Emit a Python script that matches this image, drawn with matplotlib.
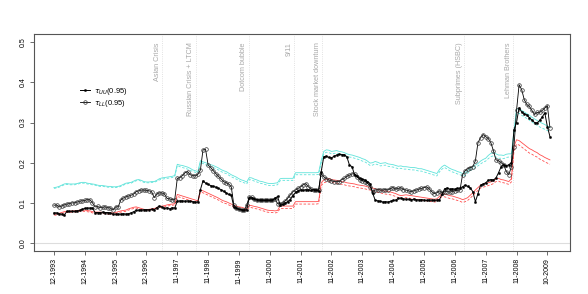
import matplotlib
matplotlib.use("Agg")
import matplotlib.pyplot as plt

plt.rcParams["font.family"] = ["Liberation Sans", "DejaVu Sans"]

# tick labels, one every 12 observations
tick_labels = ["12-1993", "12-1994", "12-1995", "12-1996", "11-1997", "11-1998",
               "11-1999", "11-2000", "11-2001", "11-2002", "11-2003", "11-2004",
               "11-2005", "11-2006", "11-2007", "11-2008", "10-2009"]

# crisis events (position in observation index)
event_names = ["Asian Crisis", "Russian Crisis + LTCM", "Dotcom bubble", "9/11",
               "Stock market downturn", "Subprimes (HSBC)", "Lehman Brothers"]
event_pos = [42.2, 55.2, 75.9, 93.6, 104.5, 159.7, 178.7]

tau_uu = [
    0.075, 0.075, 0.073, 0.072, 0.069, 0.079, 0.079, 0.079, 0.079, 0.080, 0.081, 0.084,
    0.086, 0.087, 0.087, 0.087, 0.076, 0.076, 0.076, 0.077, 0.076, 0.076, 0.075, 0.072,
    0.072, 0.072, 0.072, 0.073, 0.072, 0.073, 0.075, 0.078, 0.081, 0.082, 0.082, 0.083,
    0.083, 0.083, 0.084, 0.083, 0.088, 0.092, 0.090, 0.086, 0.088, 0.085, 0.088, 0.087,
    0.104, 0.105, 0.105, 0.104, 0.105, 0.104, 0.103, 0.102, 0.102, 0.133, 0.155, 0.149,
    0.146, 0.143, 0.141, 0.139, 0.136, 0.133, 0.129, 0.125, 0.121, 0.119, 0.090, 0.086,
    0.084, 0.083, 0.082, 0.083, 0.113, 0.112, 0.110, 0.108, 0.107, 0.107, 0.106, 0.107,
    0.106, 0.107, 0.111, 0.116, 0.095, 0.096, 0.100, 0.103, 0.108, 0.118, 0.126, 0.130,
    0.132, 0.131, 0.133, 0.132, 0.131, 0.133, 0.132, 0.129, 0.178, 0.215, 0.216, 0.213,
    0.212, 0.216, 0.219, 0.221, 0.220, 0.220, 0.214, 0.194, 0.190, 0.169, 0.166, 0.161,
    0.159, 0.157, 0.153, 0.148, 0.124, 0.107, 0.105, 0.104, 0.102, 0.103, 0.102, 0.104,
    0.106, 0.107, 0.111, 0.112, 0.110, 0.109, 0.109, 0.108, 0.109, 0.108, 0.107, 0.108,
    0.107, 0.106, 0.107, 0.107, 0.106, 0.107, 0.108, 0.121, 0.135, 0.137, 0.134, 0.135,
    0.134, 0.136, 0.137, 0.140, 0.144, 0.141, 0.137, 0.128, 0.103, 0.123, 0.144, 0.147,
    0.150, 0.156, 0.158, 0.157, 0.162, 0.175, 0.190, 0.195, 0.192, 0.195, 0.200, 0.282,
    0.300, 0.337, 0.326, 0.322, 0.319, 0.312, 0.306, 0.300, 0.299, 0.305, 0.314, 0.324,
    0.290, 0.265,
]

tau_ll = [
    0.094, 0.095, 0.090, 0.092, 0.095, 0.097, 0.098, 0.100, 0.100, 0.102, 0.104, 0.105,
    0.106, 0.108, 0.108, 0.100, 0.090, 0.091, 0.088, 0.089, 0.090, 0.088, 0.087, 0.082,
    0.090, 0.090, 0.107, 0.112, 0.115, 0.117, 0.119, 0.122, 0.128, 0.130, 0.132, 0.132,
    0.131, 0.130, 0.128, 0.113, 0.122, 0.125, 0.125, 0.122, 0.111, 0.110, 0.108, 0.108,
    0.161, 0.163, 0.168, 0.175, 0.178, 0.170, 0.168, 0.167, 0.171, 0.182, 0.232, 0.233,
    0.194, 0.188, 0.180, 0.173, 0.166, 0.160, 0.153, 0.150, 0.147, 0.140, 0.095, 0.088,
    0.084, 0.082, 0.081, 0.094, 0.115, 0.114, 0.110, 0.108, 0.107, 0.107, 0.107, 0.107,
    0.107, 0.108, 0.110, 0.098, 0.098, 0.100, 0.105, 0.112, 0.120, 0.128, 0.132, 0.136,
    0.140, 0.145, 0.148, 0.140, 0.135, 0.133, 0.132, 0.133, 0.173, 0.165, 0.160, 0.157,
    0.155, 0.153, 0.153, 0.153, 0.158, 0.161, 0.166, 0.169, 0.172, 0.173, 0.165, 0.157,
    0.155, 0.153, 0.150, 0.140, 0.128, 0.132, 0.133, 0.132, 0.132, 0.133, 0.132, 0.136,
    0.138, 0.134, 0.136, 0.138, 0.133, 0.132, 0.130, 0.128, 0.130, 0.132, 0.134, 0.136,
    0.138, 0.140, 0.135, 0.128, 0.123, 0.125, 0.130, 0.125, 0.128, 0.128, 0.127, 0.128,
    0.130, 0.131, 0.132, 0.170, 0.180, 0.185, 0.188, 0.190, 0.205, 0.250, 0.262, 0.270,
    0.265, 0.260, 0.250, 0.230, 0.207, 0.205, 0.200, 0.195, 0.178, 0.170, 0.190, 0.240,
    0.330, 0.394, 0.382, 0.357, 0.345, 0.340, 0.330, 0.320, 0.325, 0.325, 0.330, 0.336,
    0.342, 0.287,
]

upper_band = [
    0.138, 0.139, 0.141, 0.144, 0.147, 0.148, 0.147, 0.147, 0.147, 0.148, 0.150, 0.151,
    0.151, 0.149, 0.148, 0.147, 0.146, 0.144, 0.143, 0.143, 0.142, 0.141, 0.141, 0.140,
    0.140, 0.141, 0.143, 0.146, 0.149, 0.150, 0.151, 0.154, 0.157, 0.158, 0.156, 0.153,
    0.152, 0.152, 0.153, 0.153, 0.156, 0.160, 0.162, 0.163, 0.164, 0.165, 0.166, 0.168,
    0.196, 0.194, 0.193, 0.191, 0.189, 0.186, 0.182, 0.180, 0.178, 0.205, 0.202, 0.200,
    0.197, 0.195, 0.193, 0.190, 0.187, 0.183, 0.180, 0.178, 0.174, 0.170, 0.167, 0.164,
    0.160, 0.157, 0.155, 0.152, 0.163, 0.162, 0.159, 0.157, 0.154, 0.153, 0.151, 0.149,
    0.148, 0.148, 0.149, 0.150, 0.160, 0.161, 0.161, 0.161, 0.161, 0.161, 0.175, 0.175,
    0.175, 0.175, 0.175, 0.175, 0.175, 0.175, 0.175, 0.176, 0.205, 0.228, 0.232, 0.231,
    0.228, 0.229, 0.230, 0.228, 0.227, 0.225, 0.222, 0.220, 0.219, 0.217, 0.215, 0.213,
    0.210, 0.208, 0.204, 0.199, 0.200, 0.203, 0.201, 0.198, 0.199, 0.200, 0.197, 0.196,
    0.195, 0.193, 0.191, 0.192, 0.190, 0.190, 0.189, 0.188, 0.188, 0.187, 0.185, 0.185,
    0.183, 0.181, 0.179, 0.177, 0.175, 0.173, 0.183, 0.190, 0.194, 0.190, 0.186, 0.183,
    0.181, 0.178, 0.176, 0.173, 0.175, 0.180, 0.186, 0.190, 0.194, 0.198, 0.204, 0.208,
    0.211, 0.218, 0.223, 0.225, 0.222, 0.219, 0.219, 0.218, 0.221, 0.222, 0.222, 0.280,
    0.333, 0.335, 0.330, 0.326, 0.322, 0.318, 0.313, 0.309, 0.305, 0.301, 0.298, 0.295,
    0.291, 0.288,
]

upper_band_2 = [
    0.136, 0.137, 0.139, 0.142, 0.145, 0.146, 0.145, 0.145, 0.145, 0.146, 0.148, 0.149,
    0.149, 0.147, 0.146, 0.145, 0.144, 0.142, 0.141, 0.141, 0.140, 0.139, 0.139, 0.138,
    0.138, 0.139, 0.141, 0.144, 0.147, 0.148, 0.149, 0.152, 0.155, 0.156, 0.154, 0.151,
    0.150, 0.150, 0.151, 0.151, 0.154, 0.157, 0.159, 0.160, 0.161, 0.162, 0.163, 0.165,
    0.193, 0.190, 0.188, 0.186, 0.184, 0.181, 0.178, 0.176, 0.174, 0.201, 0.198, 0.195,
    0.192, 0.190, 0.188, 0.185, 0.182, 0.178, 0.175, 0.173, 0.169, 0.165, 0.162, 0.159,
    0.155, 0.152, 0.150, 0.147, 0.158, 0.157, 0.154, 0.152, 0.149, 0.148, 0.146, 0.144,
    0.143, 0.143, 0.144, 0.145, 0.155, 0.156, 0.156, 0.156, 0.156, 0.156, 0.170, 0.170,
    0.170, 0.170, 0.170, 0.170, 0.170, 0.170, 0.170, 0.171, 0.200, 0.222, 0.226, 0.225,
    0.222, 0.223, 0.224, 0.222, 0.221, 0.219, 0.216, 0.214, 0.213, 0.211, 0.209, 0.207,
    0.204, 0.202, 0.198, 0.193, 0.194, 0.197, 0.195, 0.192, 0.193, 0.194, 0.191, 0.190,
    0.189, 0.187, 0.185, 0.186, 0.184, 0.184, 0.183, 0.182, 0.182, 0.181, 0.179, 0.179,
    0.177, 0.175, 0.173, 0.171, 0.169, 0.167, 0.177, 0.184, 0.188, 0.184, 0.180, 0.177,
    0.175, 0.172, 0.170, 0.167, 0.169, 0.174, 0.180, 0.184, 0.188, 0.192, 0.197, 0.201,
    0.204, 0.210, 0.215, 0.217, 0.214, 0.211, 0.211, 0.210, 0.213, 0.214, 0.214, 0.270,
    0.322, 0.323, 0.318, 0.314, 0.310, 0.306, 0.301, 0.297, 0.293, 0.289, 0.286, 0.283,
    0.280, 0.277,
]

lower_band = [
    0.073, 0.072, 0.074, 0.076, 0.078, 0.079, 0.079, 0.080, 0.080, 0.081, 0.082, 0.082,
    0.082, 0.081, 0.080, 0.078, 0.077, 0.077, 0.077, 0.076, 0.076, 0.075, 0.075, 0.075,
    0.076, 0.078, 0.080, 0.081, 0.082, 0.085, 0.087, 0.089, 0.090, 0.088, 0.086, 0.084,
    0.083, 0.084, 0.085, 0.086, 0.088, 0.091, 0.092, 0.093, 0.095, 0.096, 0.097, 0.098,
    0.121, 0.119, 0.117, 0.115, 0.113, 0.111, 0.109, 0.107, 0.105, 0.132, 0.130, 0.127,
    0.124, 0.121, 0.118, 0.115, 0.112, 0.108, 0.105, 0.103, 0.100, 0.097, 0.094, 0.092,
    0.090, 0.089, 0.087, 0.086, 0.094, 0.093, 0.091, 0.090, 0.088, 0.086, 0.084, 0.082,
    0.081, 0.081, 0.080, 0.081, 0.092, 0.092, 0.092, 0.092, 0.092, 0.092, 0.103, 0.103,
    0.103, 0.103, 0.103, 0.103, 0.103, 0.103, 0.103, 0.104, 0.150, 0.157, 0.159, 0.161,
    0.158, 0.157, 0.156, 0.155, 0.153, 0.152, 0.150, 0.149, 0.148, 0.147, 0.145, 0.144,
    0.143, 0.142, 0.140, 0.139, 0.137, 0.135, 0.133, 0.132, 0.130, 0.129, 0.128, 0.127,
    0.125, 0.123, 0.120, 0.118, 0.119, 0.120, 0.119, 0.118, 0.117, 0.116, 0.115, 0.114,
    0.113, 0.112, 0.111, 0.110, 0.109, 0.110, 0.116, 0.123, 0.122, 0.120, 0.118, 0.117,
    0.115, 0.113, 0.111, 0.108, 0.110, 0.113, 0.119, 0.125, 0.132, 0.138, 0.144, 0.146,
    0.148, 0.150, 0.152, 0.155, 0.160, 0.161, 0.158, 0.157, 0.155, 0.153, 0.160, 0.240,
    0.257, 0.255, 0.250, 0.245, 0.240, 0.235, 0.232, 0.228, 0.225, 0.220, 0.217, 0.213,
    0.210, 0.207,
]

lower_band_2 = [
    0.070, 0.069, 0.071, 0.073, 0.075, 0.076, 0.076, 0.077, 0.077, 0.078, 0.079, 0.079,
    0.079, 0.078, 0.077, 0.075, 0.074, 0.074, 0.074, 0.073, 0.073, 0.072, 0.072, 0.072,
    0.073, 0.075, 0.077, 0.078, 0.079, 0.082, 0.084, 0.086, 0.087, 0.085, 0.083, 0.081,
    0.080, 0.081, 0.082, 0.083, 0.085, 0.088, 0.089, 0.090, 0.092, 0.093, 0.094, 0.095,
    0.116, 0.114, 0.112, 0.110, 0.108, 0.106, 0.104, 0.102, 0.100, 0.127, 0.125, 0.122,
    0.119, 0.116, 0.113, 0.110, 0.107, 0.103, 0.100, 0.098, 0.095, 0.092, 0.089, 0.087,
    0.085, 0.084, 0.082, 0.081, 0.089, 0.088, 0.086, 0.085, 0.083, 0.081, 0.079, 0.077,
    0.076, 0.076, 0.075, 0.076, 0.086, 0.086, 0.086, 0.086, 0.086, 0.086, 0.097, 0.097,
    0.097, 0.097, 0.097, 0.097, 0.097, 0.097, 0.097, 0.098, 0.143, 0.150, 0.152, 0.154,
    0.151, 0.150, 0.149, 0.148, 0.146, 0.145, 0.143, 0.142, 0.141, 0.140, 0.138, 0.137,
    0.136, 0.135, 0.133, 0.132, 0.130, 0.128, 0.126, 0.125, 0.123, 0.122, 0.121, 0.120,
    0.118, 0.116, 0.113, 0.111, 0.112, 0.113, 0.112, 0.111, 0.110, 0.109, 0.108, 0.107,
    0.106, 0.105, 0.104, 0.103, 0.102, 0.103, 0.109, 0.116, 0.115, 0.113, 0.111, 0.110,
    0.108, 0.106, 0.104, 0.101, 0.103, 0.106, 0.112, 0.118, 0.125, 0.131, 0.137, 0.139,
    0.141, 0.143, 0.145, 0.148, 0.153, 0.154, 0.151, 0.150, 0.148, 0.146, 0.152, 0.228,
    0.246, 0.244, 0.239, 0.234, 0.229, 0.224, 0.221, 0.217, 0.214, 0.209, 0.206, 0.202,
    0.199, 0.196,
]

n = len(tau_uu)
idx = list(range(n))

fig = plt.figure(figsize=(5.88, 2.94), dpi=100)
ax = fig.add_axes([0.058, 0.146, 0.911, 0.738])

cyan = "#5ee3da"
red = "#ff4d4d"

ax.axhline(0, color="#dddddd", lw=0.8, zorder=0)
for pos in event_pos:
    ax.axvline(pos, color="#d8d8d8", lw=0.6, ls=":", zorder=0)
for name, pos in zip(event_names, event_pos):
    ax.text(pos - 0.6, 0.5, name, rotation=90, ha="right", va="top",
            fontsize=5.2, color="#a8a8a8")

ax.plot(idx, lower_band, color=red, lw=0.6)
ax.plot(idx, lower_band_2, color=red, lw=0.6, ls=(0, (3, 2)))
ax.plot(idx, upper_band, color=cyan, lw=0.6)
ax.plot(idx, upper_band_2, color=cyan, lw=0.6, ls=(0, (3, 2)))

ax.plot(idx, tau_ll, color="black", lw=0.6, marker="o", markersize=2.6,
        markerfacecolor="none", markeredgecolor="#333333", markeredgewidth=0.5,
        label=r"$\tau_{LL}$(0.95)")
ax.plot(idx, tau_uu, color="black", lw=0.7, marker="o", markersize=1.6,
        markerfacecolor="black", markeredgecolor="black", markeredgewidth=0.3,
        label=r"$\tau_{UU}$(0.95)")

handles, labels = ax.get_legend_handles_labels()
ax.legend(handles[::-1], labels[::-1], loc="upper left", bbox_to_anchor=(0.075, 0.785),
          frameon=False, fontsize=5.4, handlelength=1.4, handletextpad=0.5,
          labelspacing=0.1, borderpad=0.2)

ax.set_xlim(-0.04 * (n - 1), (n - 1) * 1.04)
ax.set_ylim(-0.02, 0.52)
ax.set_xticks(range(0, n, 12))
ax.set_xticklabels(tick_labels, rotation=90, fontsize=5.0)
ax.set_yticks([0.0, 0.1, 0.2, 0.3, 0.4, 0.5])
ax.set_yticklabels(["0.0", "0.1", "0.2", "0.3", "0.4", "0.5"], rotation=90,
                   fontsize=5.0, va="center")
ax.tick_params(length=3, width=0.6, color="#555555", pad=2)
for sp in ax.spines.values():
    sp.set_color("#555555")
    sp.set_linewidth(0.8)

fig.savefig("out.png", dpi=100)
